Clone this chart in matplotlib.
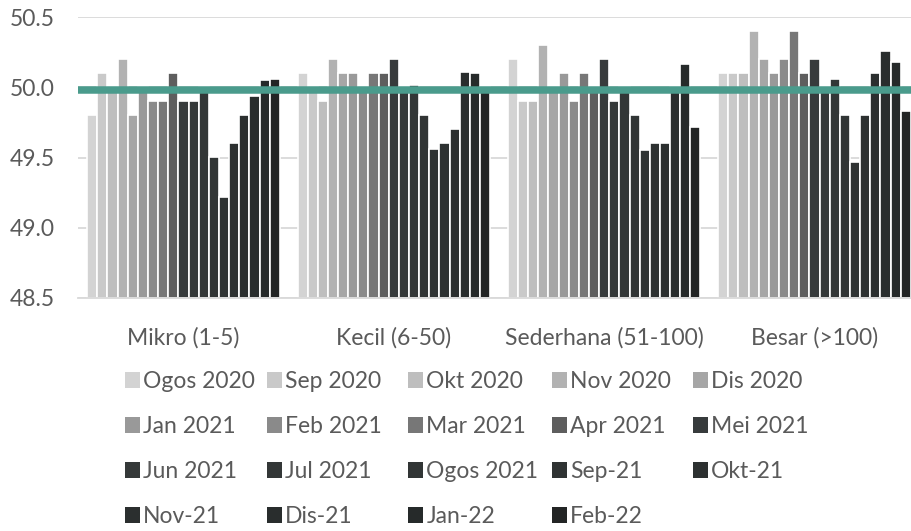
import matplotlib
matplotlib.use("Agg")
import matplotlib.pyplot as plt
from matplotlib.patches import Patch
import numpy as np

categories = ["Mikro (1-5)", "Kecil (6-50)", "Sederhana (51-100)", "Besar (>100)"]
series_names = ["Ogos 2020", "Sep 2020", "Okt 2020", "Nov 2020", "Dis 2020",
                "Jan 2021", "Feb 2021", "Mar 2021", "Apr 2021", "Mei 2021",
                "Jun 2021", "Jul 2021", "Ogos 2021", "Sep-21", "Okt-21",
                "Nov-21", "Dis-21", "Jan-22", "Feb-22"]
# values per series: [Mikro, Kecil, Sederhana, Besar]
ogos2020 = [49.8, 50.1, 50.2, 50.1]
sep2020 = [50.1, 50.0, 49.9, 50.1]
okt2020 = [50.0, 49.9, 49.9, 50.1]
nov2020 = [50.2, 50.2, 50.3, 50.4]
dis2020 = [49.8, 50.1, 50.0, 50.2]
jan2021 = [50.0, 50.1, 50.1, 50.1]
feb2021 = [49.9, 50.0, 49.9, 50.2]
mar2021 = [49.9, 50.1, 50.1, 50.4]
apr2021 = [50.1, 50.1, 50.0, 50.1]
mei2021 = [49.9, 50.2, 50.2, 50.2]
jun2021 = [49.9, 50.0, 49.9, 50.0]
jul2021 = [50.0, 50.02, 50.0, 50.06]
ogos2021 = [49.5, 49.8, 49.8, 49.8]
sep21 = [49.22, 49.56, 49.55, 49.47]
okt21 = [49.6, 49.6, 49.6, 49.8]
nov21 = [49.8, 49.7, 49.6, 50.1]
dis21 = [49.94, 50.11, 50.0, 50.26]
jan22 = [50.05, 50.1, 50.17, 50.18]
feb22 = [50.06, 50.0, 49.72, 49.83]
series_values = [ogos2020, sep2020, okt2020, nov2020, dis2020, jan2021, feb2021,
                 mar2021, apr2021, mei2021, jun2021, jul2021, ogos2021, sep21,
                 okt21, nov21, dis21, jan22, feb22]
threshold = 49.98
yticks = [48.5, 49.0, 49.5, 50.0, 50.5]

colors = ["#d3d3d3", "#c9c9c9", "#bebebe", "#b2b2b2", "#a6a6a6", "#999999",
          "#8a8a8a", "#777777", "#5e5e5e", "#373b3c", "#353939", "#333737",
          "#313535", "#2f3333", "#2d3131", "#2b2f2f", "#292d2d", "#262a2a",
          "#232525"]

plt.rcParams['font.family'] = ['Lato', 'DejaVu Sans']
W, H = 912, 531
fig = plt.figure(figsize=(W / 100, H / 100), dpi=100)
left_px, right_px, top_px, bot_px = 78.3, 919.7, 17.3, 297.7
ax = fig.add_axes([left_px / W, 1 - bot_px / H, (right_px - left_px) / W, (bot_px - top_px) / H])

n = len(series_values)
pitch = 0.0482
x = np.arange(len(categories))
for k, vals in enumerate(series_values):
    ax.bar(x + (k - (n - 1) / 2) * pitch, np.array(vals) - 48.5, bottom=48.5,
           width=pitch, color=colors[k], edgecolor="white", linewidth=1.2, zorder=2)

ax.axhline(threshold, color="#4a9b8c", linewidth=5.4, zorder=3)

ax.set_xlim(-0.5, len(categories) - 0.5)
ax.set_ylim(48.5, 50.5)
ax.set_yticks(yticks)
ax.set_yticklabels([f"{v:.1f}" for v in yticks])
ax.set_xticks(x)
ax.set_xticklabels(categories)
ax.tick_params(axis="both", length=0, labelsize=16.5, labelcolor="#5a5a5a")
ax.tick_params(axis="y", pad=17)
ax.tick_params(axis="x", pad=21)
ax.grid(axis="y", color="#d9d9d9", linewidth=1.3, zorder=0)
ax.set_axisbelow(True)
for s in ["top", "right", "left"]:
    ax.spines[s].set_visible(False)
ax.spines["bottom"].set_color("#d9d9d9")
ax.spines["bottom"].set_linewidth(1.3)
ax.spines["bottom"].set_zorder(2.5)

# legend: 5 columns, equal spacing, filled row-wise
col_x = [125, 267, 408, 552, 693]
ncol = 5
for j in range(ncol):
    idxs = list(range(j, n, ncol))
    handles = [Patch(facecolor=colors[i], edgecolor="none") for i in idxs]
    labels = [series_names[i] for i in idxs]
    fig.legend(handles, labels, loc="upper left",
               bbox_to_anchor=(col_x[j] / W, 1 - 371 / H),
               frameon=False, fontsize=16.5, labelcolor="#5a5a5a",
               handlelength=0.65, handleheight=0.65, handletextpad=0.15,
               labelspacing=1.05, borderpad=0, borderaxespad=0)

fig.savefig("out.png", dpi=100)
